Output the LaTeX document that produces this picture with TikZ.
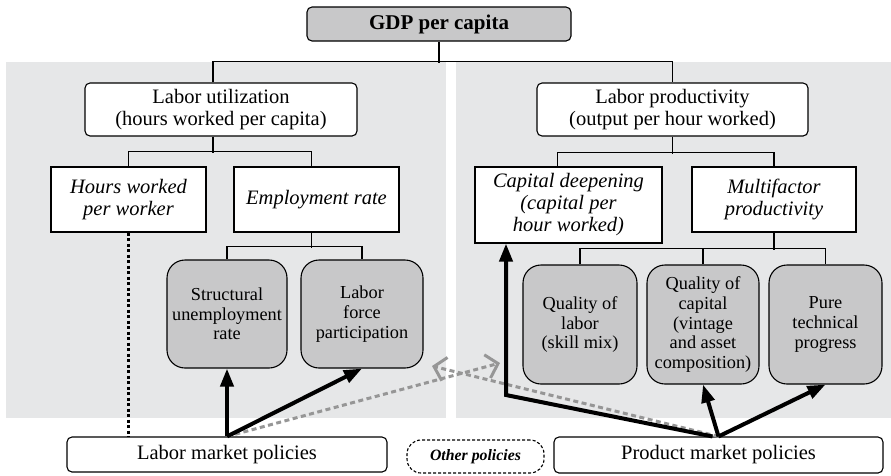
\documentclass[tikz,border=0pt]{standalone}
\usepackage{fontspec}
\setmainfont{Liberation Serif}
\usetikzlibrary{arrows.meta,calc}
\definecolor{panel}{RGB}{230,231,232}
\definecolor{boxgray}{RGB}{200,200,201}
\definecolor{dashgray}{RGB}{150,150,150}
\begin{document}
\begin{tikzpicture}[x=1pt,y=-1pt,
 every node/.style={inner sep=0pt, align=center},
 conn/.style={draw=black, line width=1.2pt},
 connthick/.style={draw=black, line width=2pt},
 plainbox/.style={draw=black, line width=1.1pt, fill=white, font=\fontsize{20.5}{21.5}\selectfont},
 roundbox/.style={plainbox, rounded corners=5pt},
 itbox/.style={plainbox, font=\fontsize{20.5}{22}\selectfont\itshape},
 graybox/.style={draw=black, line width=1.1pt, fill=boxgray, rounded corners=18pt, font=\fontsize{18.3}{19.6}\selectfont},
 bigarrow/.style={line width=4pt, line join=miter, -{Triangle[length=18pt,width=13pt]}},
 dasharrow/.style={draw=dashgray, line width=3pt, dash pattern=on 5pt off 3.5pt, -{Straight Barb[length=11pt,width=24pt]}},
 dotline/.style={line width=2.4pt, dash pattern=on 3pt off 2.5pt},
]
\useasboundingbox (0,0) rectangle (891,475);
% background panels
\fill[panel] (6,62) rectangle (446,418);
\fill[panel] (456,62) rectangle (891,418);

% nodes
\node[roundbox, fill=boxgray, minimum width=264pt, minimum height=34pt, font=\fontsize{21}{22}\selectfont\bfseries] (gdp) at (439,24) {GDP per capita};
\node[roundbox, minimum width=272pt, minimum height=53pt] (lu) at (221,109.5) {Labor utilization\\(hours worked per capita)};
\node[roundbox, minimum width=271pt, minimum height=53pt] (lp) at (672.5,109.5) {Labor productivity\\(output per hour worked)};
\node[itbox, minimum width=155pt, minimum height=65pt] (hw) at (128.5,199.5) {Hours worked\\per worker};
\node[itbox, minimum width=165pt, minimum height=65pt] (er) at (316.5,199.5) {Employment rate};
\node[itbox, minimum width=187pt, minimum height=76pt] (cd) at (568.5,205) {Capital deepening\\(capital per\\hour worked)};
\node[itbox, minimum width=164pt, minimum height=65pt] (mf) at (774,199.5) {Multifactor\\productivity};
\node[graybox, minimum width=120pt, minimum height=108pt] (su) at (227,314) {Structural\\unemployment\\rate};
\node[graybox, minimum width=122pt, minimum height=108pt] (lf) at (362,314) {Labor\\force\\participation};
\node[graybox, minimum width=114pt, minimum height=119pt] (ql) at (580,324.5) {Quality of\\labor\\(skill mix)};
\node[graybox, minimum width=112pt, minimum height=119pt] (qc) at (703,324.5) {Quality of\\capital\\(vintage\\and asset\\composition)};
\node[graybox, minimum width=113pt, minimum height=119pt] (pt) at (825.5,324.5) {Pure\\technical\\progress};
\node[roundbox, minimum width=320pt, minimum height=35pt] (lab) at (227,454.5) {Labor market policies};
\node[draw=black, line width=1.1pt, dash pattern=on 3pt off 2pt, fill=white, rounded corners=14pt, minimum width=137pt, minimum height=33pt, font=\fontsize{15.8}{16}\selectfont\bfseries\itshape] (oth) at (475.5,456.5) {Other policies};
\node[roundbox, minimum width=329pt, minimum height=36pt] (prod) at (718.5,455) {Product market policies};

% tree connectors
\draw[conn] (gdp.south) -- ++(0,21);
\draw[conn] ([xshift=-8pt]lu.north) -- ++(0,-21) -| (lp.north);
\draw[conn] ([xshift=-8pt]lu.south) -- ++(0,16);
\draw[conn] (hw.north) -- ++(0,-15) -| ([xshift=-5pt]er.north);
\draw[conn] (lp.south) -- ++(0,17);
\draw[conn] ([xshift=-11pt]cd.north) -- ++(0,-14) -| (mf.north);
\draw[conn] ([xshift=-5pt]er.south) -- ++(0,15);
\draw[conn] (su.north) -- ++(0,-13) -| (lf.north);
\draw[connthick] (mf.south) -- ++(0,17);
\draw[conn] (ql.north) -- ++(0,-16) -| (pt.north);
\draw[conn] (qc.north) -- ++(0,-16);

% dotted link
\draw[dotline] (hw.south) -- (hw.south |- lab.north);

% gray dashed arrows
\coordinate (d1) at (500,363);
\coordinate (d2) at (432,366);
\draw[dasharrow] (lab.north) -- (d1);
\draw[dasharrow] (prod.north) -- (d2);

% thick arrows
\coordinate (k) at (506,395);
\draw[bigarrow] (lab.north) -- (su.south);
\draw[bigarrow] (lab.north) -- (lf.south);
\draw[bigarrow] (prod.north) -- (qc.south);
\draw[bigarrow] (prod.north) -- (pt.south);
\draw[bigarrow] ([xshift=-6pt]prod.north) -- (k) -- (k |- cd.south);
\end{tikzpicture}
\end{document}
